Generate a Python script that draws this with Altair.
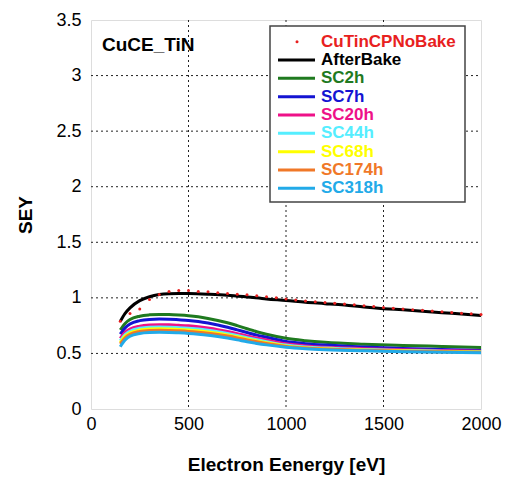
import altair as alt
import pandas as pd

# ---- data ----
grid = [150, 175, 200, 250, 300, 350, 400, 450, 500, 550, 600, 650, 700, 750,
        800, 850, 900, 1000, 1100, 1200, 1400, 1600, 1800, 2000]

sc2h = [0.712, 0.77, 0.805, 0.835, 0.847, 0.851, 0.85, 0.846, 0.84, 0.83, 0.815, 0.797,
        0.776, 0.75, 0.722, 0.695, 0.672, 0.636, 0.615, 0.600, 0.583, 0.572, 0.563, 0.554]
sc7h = [0.673, 0.73, 0.765, 0.795, 0.806, 0.809, 0.808, 0.803, 0.797, 0.787, 0.773, 0.756,
        0.736, 0.712, 0.688, 0.665, 0.645, 0.607, 0.588, 0.575, 0.558, 0.545, 0.535, 0.527]
sc20h = [0.636, 0.69, 0.72, 0.745, 0.755, 0.758, 0.757, 0.753, 0.748, 0.74, 0.728, 0.714,
         0.697, 0.678, 0.657, 0.638, 0.62, 0.587, 0.568, 0.556, 0.543, 0.533, 0.526, 0.52]
sc44h = [0.615, 0.67, 0.70, 0.726, 0.735, 0.737, 0.736, 0.732, 0.727, 0.72, 0.709, 0.696,
         0.68, 0.662, 0.642, 0.623, 0.606, 0.575, 0.558, 0.548, 0.535, 0.526, 0.52, 0.515]
sc68h = [0.6, 0.655, 0.685, 0.71, 0.719, 0.721, 0.72, 0.716, 0.711, 0.704, 0.694, 0.682,
         0.667, 0.65, 0.631, 0.613, 0.597, 0.568, 0.552, 0.543, 0.531, 0.523, 0.517, 0.512]
sc174h = [0.585, 0.64, 0.672, 0.697, 0.706, 0.708, 0.707, 0.703, 0.698, 0.691, 0.682, 0.67,
          0.656, 0.64, 0.622, 0.605, 0.59, 0.563, 0.548, 0.539, 0.528, 0.52, 0.515, 0.511]
sc318h = [0.56, 0.62, 0.655, 0.68, 0.688, 0.69, 0.689, 0.685, 0.68, 0.673, 0.664, 0.652,
          0.638, 0.622, 0.605, 0.59, 0.577, 0.556, 0.543, 0.534, 0.523, 0.516, 0.511, 0.507]

after_e = [150, 175, 200, 250, 300, 350, 400, 450, 500, 600, 700, 800, 900, 1000, 1100,
           1200, 1300, 1400, 1500, 1600, 1700, 1800, 1900, 2000]
after_v = [0.787, 0.86, 0.91, 0.975, 1.01, 1.03, 1.038, 1.04, 1.039, 1.033, 1.024, 1.008,
           0.99, 0.976, 0.96, 0.948, 0.935, 0.917, 0.903, 0.892, 0.88, 0.867, 0.855, 0.842]

nobake_e = list(range(150, 2001, 50))
nobake_v = [0.79, 0.86, 0.90, 0.985, 1.03, 1.057, 1.066, 1.066, 1.057, 1.055, 1.045, 1.039,
            1.033, 1.027, 1.02, 1.009, 1.0, 0.99, 0.98, 0.972, 0.965, 0.958, 0.952, 0.945,
            0.938, 0.93, 0.922, 0.914, 0.906, 0.9, 0.894, 0.888, 0.882, 0.876, 0.869, 0.862,
            0.856, 0.85]

names = ["CuTinCPNoBake", "AfterBake", "SC2h", "SC7h", "SC20h", "SC44h", "SC68h",
         "SC174h", "SC318h"]
colors = ["#e82020", "#000000", "#1f7a1f", "#1414d2", "#ee1188", "#55eeff", "#ffff00",
          "#f07828", "#22aae8"]

x_ticks = [0, 500, 1000, 1500, 2000]
y_ticks = [0, 0.5, 1, 1.5, 2, 2.5, 3, 3.5]

# ---- tables ----
sc_series = [("SC2h", sc2h), ("SC7h", sc7h), ("SC20h", sc20h), ("SC44h", sc44h),
             ("SC68h", sc68h), ("SC174h", sc174h), ("SC318h", sc318h)]
rows = []
for n, vals in sc_series:
    for e, v in zip(grid, vals):
        rows.append({"series": n, "E": e, "SEY": v})
for e, v in zip(after_e, after_v):
    rows.append({"series": "AfterBake", "E": e, "SEY": v})
lines_df = pd.DataFrame(rows)
dots_df = pd.DataFrame({"series": "CuTinCPNoBake", "E": nobake_e, "SEY": nobake_v})
leg_df = pd.DataFrame({"series": names, "row": list(range(len(names)))})
xg_df = pd.DataFrame({"E": x_ticks[1:-1]})
yg_df = pd.DataFrame({"SEY": y_ticks[1:-1]})

FONT = "Liberation Sans"
color = alt.Color("series:N", scale=alt.Scale(domain=names, range=colors), legend=None)

xenc = alt.X("E:Q", scale=alt.Scale(domain=[0, 2000], nice=False),
             axis=alt.Axis(values=x_ticks, title="Electron Eenergy [eV]",
                           labelExpr="datum.value", labelFontSize=18, titleFontSize=19,
                           titleFontWeight="bold", labelFont=FONT, titleFont=FONT,
                           labelColor="#000", titleColor="#000", grid=False,
                           ticks=False, domain=False, labelPadding=6, titlePadding=22,
                           labelFlush=False))
yenc = alt.Y("SEY:Q", scale=alt.Scale(domain=[0, 3.5], nice=False),
             axis=alt.Axis(values=y_ticks, title="SEY",
                           labelExpr="datum.value", labelFontSize=18, titleFontSize=19,
                           titleFontWeight="bold", labelFont=FONT, titleFont=FONT,
                           labelColor="#000", titleColor="#000", grid=False,
                           ticks=False, domain=False, labelPadding=10, titlePadding=20,
                           labelFlush=False))

xgrid = alt.Chart(xg_df).mark_rule(color="#222", strokeWidth=1, strokeDash=[2, 3]).encode(
    x=alt.X("E:Q"), y=alt.value(0), y2=alt.value(389))
ygrid = alt.Chart(yg_df).mark_rule(color="#222", strokeWidth=1, strokeDash=[2, 3]).encode(
    y=alt.Y("SEY:Q"), x=alt.value(0), x2=alt.value(390))

sc_layer = alt.Chart(lines_df[lines_df.series != "AfterBake"]).mark_line(
    strokeWidth=3, interpolate="monotone").encode(x=xenc, y=yenc, color=color)
ab_layer = alt.Chart(lines_df[lines_df.series == "AfterBake"]).mark_line(
    strokeWidth=3, interpolate="monotone").encode(x=xenc, y=yenc, color=color)
dots = alt.Chart(dots_df).mark_circle(size=9, opacity=1).encode(
    x=alt.X("E:Q"), y=alt.Y("SEY:Q"), color=color)

title = alt.Chart(alt.Data(values=[{"t": "CuCE_TiN"}])).mark_text(
    align="left", baseline="middle", font=FONT, fontSize=19, fontWeight="bold",
    color="#000").encode(x=alt.value(11), y=alt.value(25), text="t:N")

box = alt.Chart(alt.Data(values=[{}])).mark_rect(
    fill="white", stroke="#444", strokeWidth=1.5).encode(
    x=alt.value(179), x2=alt.value(374), y=alt.value(6), y2=alt.value(182))

ly = alt.Y("row:Q", scale=alt.Scale(domain=[0, 8], range=[21.7, 168.3], nice=False,
                                     zero=False), axis=None)
leg_rules = alt.Chart(leg_df[leg_df.series != "CuTinCPNoBake"]).mark_rule(
    strokeWidth=3).encode(x=alt.value(187), x2=alt.value(224), y=ly, color=color)
leg_dot = alt.Chart(leg_df[leg_df.series == "CuTinCPNoBake"]).mark_circle(
    size=9, opacity=1).encode(x=alt.value(206), y=ly, color=color)
leg_text = alt.Chart(leg_df).mark_text(
    align="left", baseline="middle", font=FONT, fontSize=17, fontWeight="bold").encode(
    x=alt.value(230), y=ly, text="series:N", color=color)

main = alt.layer(xgrid, ygrid, sc_layer, ab_layer, dots, title)
legend = alt.layer(box, leg_rules, leg_dot, leg_text)

chart = alt.layer(main, legend).resolve_scale(y="independent").properties(
    width=390, height=389,
    padding={"left": 83, "top": 12, "right": 21, "bottom": 68},
    autosize=alt.AutoSizeParams(type="none"),
).configure_view(stroke="#999", strokeWidth=1.5).configure(background="white")

chart.save("out.html", embed_options={"renderer": "svg", "actions": False})
